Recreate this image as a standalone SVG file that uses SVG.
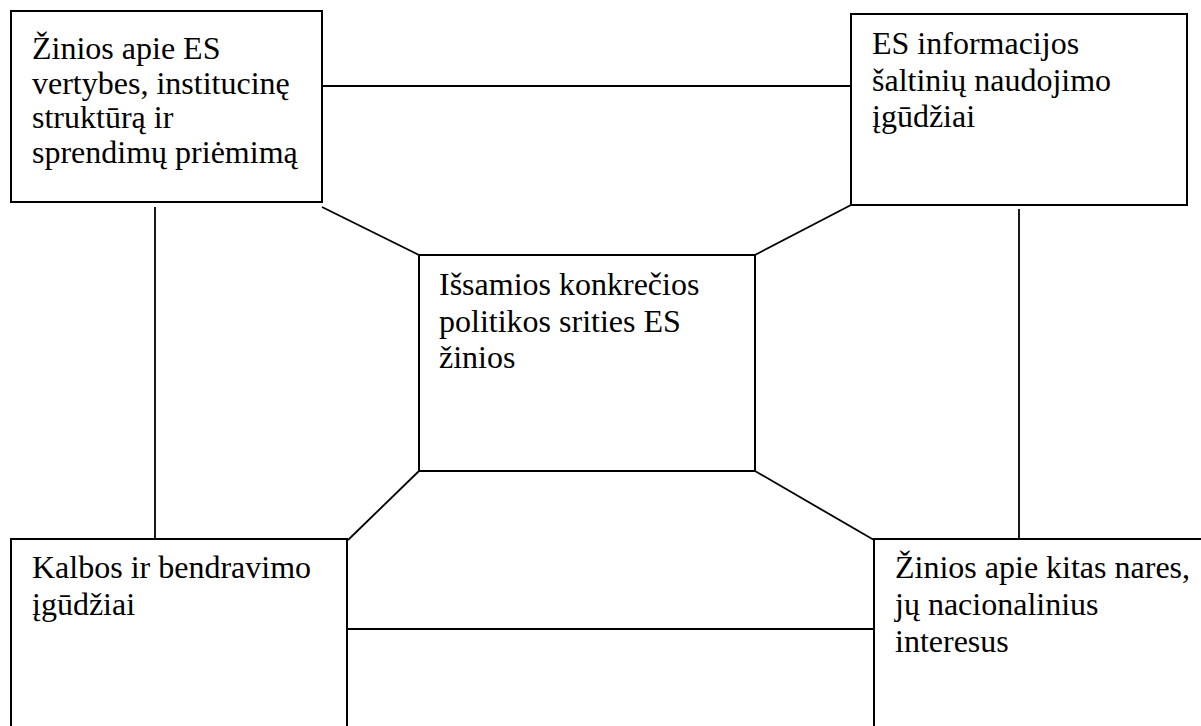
<svg xmlns="http://www.w3.org/2000/svg" width="1201" height="726" viewBox="0 0 1201 726">
<style>
.box{fill:#fff;stroke:#000;stroke-width:2}
.ln{stroke:#000;stroke-width:1.8;fill:none}
.t{font-size:32px;fill:#000}
</style>
<rect width="1201" height="726" fill="#fff"/>
<g id="connectors">
<line class="ln" x1="322" y1="86" x2="851" y2="86"/>
<line class="ln" x1="155" y1="207" x2="155" y2="539"/>
<line class="ln" x1="1019" y1="209" x2="1019" y2="539"/>
<line class="ln" x1="347" y1="629" x2="874" y2="629"/>
<line class="ln" x1="322" y1="207" x2="419" y2="255"/>
<line class="ln" x1="851" y1="205" x2="755" y2="255"/>
<line class="ln" x1="419" y1="471" x2="348" y2="540"/>
<line class="ln" x1="755" y1="471" x2="874" y2="540"/>
</g>
<g font-family="Liberation Serif, Tinos, Times New Roman, DejaVu Serif, serif">
<g id="n1">
<rect class="box" x="11" y="11" width="311" height="191"/>
<text class="t" x="32" y="59">Žinios apie ES</text>
<text class="t" x="32" y="94">vertybes, institucinę</text>
<text class="t" x="32" y="128">struktūrą ir</text>
<text class="t" x="32" y="163">sprendimų priėmimą</text>
</g>
<g id="n2">
<rect class="box" x="851" y="14" width="336" height="191"/>
<text class="t" x="872" y="54">ES informacijos</text>
<text class="t" x="872" y="91">šaltinių naudojimo</text>
<text class="t" x="872" y="127">įgūdžiai</text>
</g>
<g id="n3">
<rect class="box" x="419" y="255" width="336" height="216"/>
<text class="t" x="439" y="295">Išsamios konkrečios</text>
<text class="t" x="439" y="332">politikos srities ES</text>
<text class="t" x="439" y="368">žinios</text>
</g>
<g id="n4">
<rect class="box" x="11" y="539" width="336" height="200"/>
<text class="t" x="32" y="578">Kalbos ir bendravimo</text>
<text class="t" x="32" y="615">įgūdžiai</text>
</g>
<g id="n5">
<rect class="box" x="874" y="539" width="340" height="200"/>
<text class="t" x="895" y="578">Žinios apie kitas nares,</text>
<text class="t" x="895" y="615">jų nacionalinius</text>
<text class="t" x="895" y="652">interesus</text>
</g>
</g>
</svg>
